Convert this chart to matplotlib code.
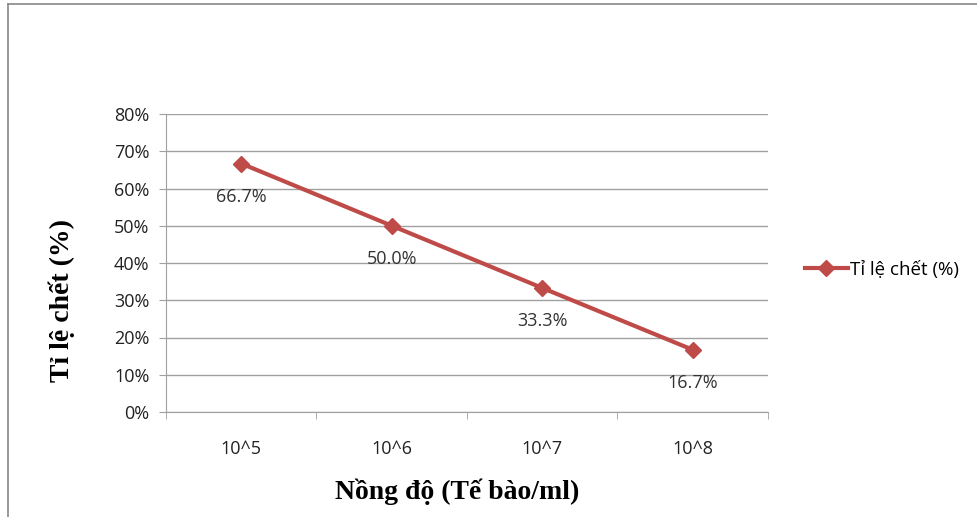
import matplotlib
matplotlib.use("Agg")
import matplotlib.pyplot as plt
from matplotlib.lines import Line2D
import numpy as np

categories = ["10^5", "10^6", "10^7", "10^8"]
death_rate = [66.7, 50.0, 33.3, 16.7]
y_ticks = [0, 10, 20, 30, 40, 50, 60, 70, 80]

red = "#BE4B48"
grid = "#A0A0A0"
sans = ["Open Sans", "DejaVu Sans"]
serif = ["Liberation Serif", "DejaVu Serif"]

fig = plt.figure(figsize=(9.78, 5.17), dpi=100)
ax = fig.add_axes([166 / 978, 1 - 412 / 517, 602 / 978, 298 / 517])

x = np.arange(len(categories))
ax.plot(x, death_rate, color=red, lw=3, marker="D", ms=8.5,
        markerfacecolor=red, markeredgecolor=red, label="Tỉ lệ chết (%)")

for xi, v in zip(x, death_rate):
    ax.annotate(f"{v:.1f}%", (xi, v), xytext=(0, -24), textcoords="offset points",
                ha="center", va="center", fontsize=13, family=sans, color="#333333")

ax.set_xlim(-0.5, len(categories) - 0.5)
ax.set_ylim(0, 80)
ax.set_yticks(y_ticks)
ax.set_yticklabels([f"{t}%" for t in y_ticks], family=sans, fontsize=13)
ax.set_xticks(x)
ax.set_xticklabels(categories, family=sans, fontsize=13)
ax.set_xticks(np.arange(len(categories) + 1) - 0.5, minor=True)
ax.tick_params(axis="x", which="major", length=0, pad=20, colors="#222222")
ax.tick_params(axis="x", which="minor", length=5, color=grid)
ax.tick_params(axis="y", length=5, color=grid, pad=7, colors="#222222")
for t in ax.get_yticklines():
    t.set_color(grid)
ax.yaxis.grid(True, color=grid, lw=1)
ax.set_axisbelow(True)
for s in ["top", "right"]:
    ax.spines[s].set_visible(False)
for s in ["left", "bottom"]:
    ax.spines[s].set_color(grid)

fig.text(457 / 978, 1 - 492 / 517, "Nồng độ (Tế bào/ml)", ha="center", va="center",
         family=serif, fontweight="bold", fontsize=20)
fig.text(62 / 978, 1 - 300 / 517, "Tỉ lệ chết (%)", ha="center", va="center",
         rotation=90, family=serif, fontweight="bold", fontsize=20)

leg = ax.legend(loc="center left", bbox_to_anchor=(788 / 978, 1 - 270 / 517),
                bbox_transform=fig.transFigure, frameon=False, handlelength=2.3,
                handletextpad=0.1, prop={"family": sans, "size": 13.5})

# outer frame of the chart box
fig.add_artist(Line2D([8 / 978, 8 / 978], [0, 1 - 4 / 517], color="#888888", lw=1.2))
fig.add_artist(Line2D([8 / 978, 1], [1 - 4 / 517, 1 - 4 / 517], color="#888888", lw=1.2))

fig.savefig("out.png", dpi=100)
